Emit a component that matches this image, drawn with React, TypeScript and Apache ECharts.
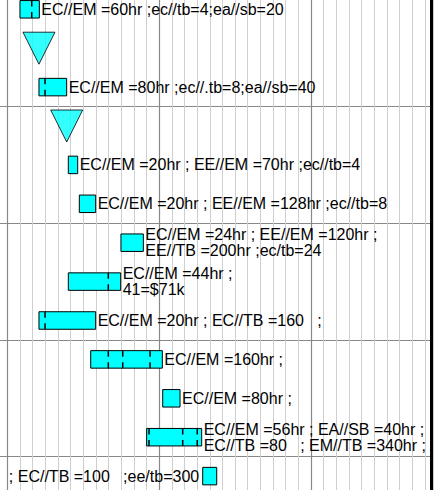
import React, { useEffect, useRef } from "react";
import * as echarts from "echarts";

// Gantt rows (top to bottom)
const rowNames = ["T1", "M1", "T2", "M2", "T3", "T4", "T5", "T6", "T7", "T8", "T9", "T10", "T11"];

// Tasks (time unit: months; 0 = first year boundary)
const taskRows = [0, 2, 4, 5, 6, 7, 8, 9, 10, 11, 12];
const taskStart = [1.0, 2.5, 4.82, 5.69, 8.98, 4.82, 2.5, 6.59, 12.28, 11.01, 15.44];
const taskEnd = [2.53, 4.69, 5.56, 6.98, 10.75, 8.96, 6.98, 12.25, 13.65, 15.36, 16.55];
const taskSplits = [[1.93], [2.98], [], [], [], [7.98], [2.98], [7.98, 9.12, 11.28], [], [11.2, 13.86, 15.01], []];
const taskLabels = [
  "EC//EM =60hr ;ec//tb=4;ea//sb=20",
  "EC//EM =80hr ;ec//.tb=8;ea//sb=40",
  "EC//EM =20hr ; EE//EM =70hr ;ec//tb=4",
  "EC//EM =20hr ; EE//EM =128hr ;ec//tb=8",
  "EC//EM =24hr ; EE//EM =120hr ;\nEE//TB =200hr ;ec/tb=24",
  "EC//EM =44hr ;\n41=$71k",
  "EC//EM =20hr ; EC//TB =160   ;",
  "EC//EM =160hr ;",
  "EC//EM =80hr ;",
  "EC//EM =56hr ; EA//SB =40hr ;\nEC//TB =80   ; EM//TB =340hr ;",
  "; EC//TB =100   ;ee/tb=300",
];
const labelLeftTasks = [10];

// Milestones
const milestoneRows = [1, 3];
const milestoneDates = [2.5, 4.69];

// Time axis extent (right end = edge of the view frame)
const timeMin = -12;
const timeMax = 33.54;

const FONT = '16px "Liberation Sans", Arial, Helvetica, sans-serif';

export default function App() {
  const ref = useRef<HTMLDivElement>(null);
  useEffect(() => {
    document.body.style.margin = "0";
    document.body.style.overflow = "hidden";
    const chart = echarts.init(ref.current!, null, { renderer: "svg" });
    const axisCommon = {
      type: "value",
      min: timeMin,
      max: timeMax,
      axisLine: { show: false },
      axisTick: { show: false },
      axisLabel: { show: false },
    };
    chart.setOption({
      animation: false,
      backgroundColor: "#ffffff",
      grid: {
        left: -144.5,
        right: 7.3,
        top: -10.15,
        bottom: -5.55,
        containLabel: false,
        outerBoundsMode: "none",
      },
      graphic: [
        {
          type: "rect",
          x: 430.2,
          y: 0,
          z: 100,
          shape: { x: 0, y: 0, width: 3, height: 490 },
          style: { fill: "#000000", stroke: null },
        },
      ],
      xAxis: [
        {
          ...axisCommon,
          interval: 1,
          splitLine: { show: true, lineStyle: { color: "#cfcfcf", width: 1 } },
        },
        {
          ...axisCommon,
          interval: 12,
          splitLine: { show: true, lineStyle: { color: "#888888", width: 1.2 } },
        },
      ],
      yAxis: {
        type: "category",
        data: rowNames,
        inverse: true,
        axisLine: { show: false },
        axisTick: { show: false },
        axisLabel: { show: false },
        splitLine: { show: true, interval: 2, lineStyle: { color: "#888888", width: 1.2 } },
      },
      series: [
        {
          type: "custom",
          xAxisIndex: 0,
          encode: { x: [0, 1], y: 2 },
          data: taskRows.map((r, i) => [taskStart[i], taskEnd[i], r, i]),
          renderItem: (params: any, api: any) => {
            const i = api.value(3);
            const row = api.value(2);
            const a = api.coord([api.value(0), row]);
            const b = api.coord([api.value(1), row]);
            const h = api.size([0, 1])[1] * 0.45;
            const top = a[1] - h / 2;
            const children: any[] = [
              {
                type: "rect",
                shape: { x: a[0], y: top, width: b[0] - a[0], height: h },
                style: { fill: "#00ffff", stroke: "#000000", lineWidth: 1 },
              },
            ];
            taskSplits[i].forEach((v) => {
              const p = api.coord([v, row]);
              children.push({
                type: "line",
                shape: { x1: p[0], y1: top, x2: p[0], y2: top + h },
                style: { stroke: "#000000", lineWidth: 1.5, lineDash: [6, 5.5] },
              });
            });
            const left = labelLeftTasks.indexOf(i) >= 0;
            children.push({
              type: "text",
              x: left ? a[0] - 3.5 : b[0] + 2,
              y: a[1],
              style: {
                text: taskLabels[i],
                fill: "#000000",
                font: FONT,
                align: left ? "right" : "left",
                verticalAlign: "middle",
                lineHeight: 16,
              },
            });
            return { type: "group", children };
          },
        },
        {
          type: "scatter",
          xAxisIndex: 0,
          data: milestoneRows.map((r, i) => [milestoneDates[i], r]),
          symbol: "triangle",
          symbolRotate: 180,
          symbolSize: [32, 32],
          itemStyle: { color: "#00ffff", borderColor: "#000000", borderWidth: 1 },
        },
      ],
    });
    return () => chart.dispose();
  }, []);
  return (
    <div style={{ position: "relative", width: 439, height: 490 }}>
      <div ref={ref} style={{ width: 439, height: 490 }} />
      <div
        style={{
          position: "fixed",
          right: 5.8,
          top: 0,
          width: 3,
          height: 490,
          background: "#000000",
          pointerEvents: "none",
        }}
      />
    </div>
  );
}
